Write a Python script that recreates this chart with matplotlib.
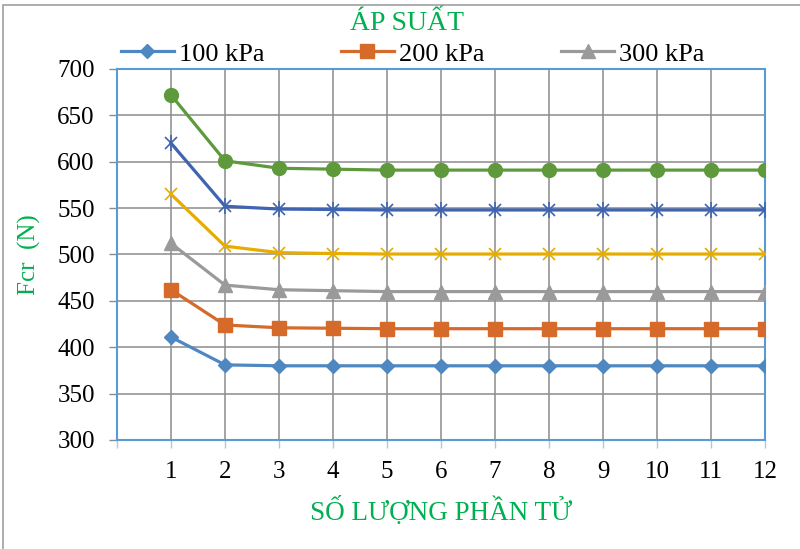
import matplotlib
matplotlib.use('Agg')
import matplotlib.pyplot as plt
from matplotlib.patches import Rectangle

plt.rcParams['font.family'] = ['Liberation Serif', 'DejaVu Serif']

# number of elements
n_elem = [1, 2, 3, 4, 5, 6, 7, 8, 9, 10, 11, 12]

# Fcr (N) for each series
fcr_100 = [411, 381, 380, 380, 380, 380, 380, 380, 380, 380, 380, 380]
fcr_200 = [462, 424, 421, 420.5, 420, 420, 420, 420, 420, 420, 420, 420]
fcr_300 = [512, 467, 462, 461, 460, 460, 460, 460, 460, 460, 460, 460]
fcr_s4 = [565, 509, 502, 501, 500.5, 500.5, 500.5, 500.5, 500.5, 500.5, 500.5, 500.5]
fcr_s5 = [620, 552, 549, 548.5, 548, 548, 548, 548, 548, 548, 548, 548]
fcr_s6 = [672, 601, 593, 592, 591, 591, 591, 591, 591, 591, 591, 591]

legend_labels = ['100 kPa', '200 kPa', '300 kPa']
y_ticks = [300, 350, 400, 450, 500, 550, 600, 650, 700]

green_txt = '#00B050'
frame_blue = '#5B9BD5'
grid_gray = '#8C8C8C'

fig = plt.figure(figsize=(8, 5.49), dpi=100)
ax = fig.add_axes([117/800, 1-440/549, (765-117)/800, (440-69)/549])

lw = 2.3
l1, = ax.plot(n_elem, fcr_100, color='#4F88C0', lw=lw, marker='D', ms=7.5, zorder=5)
l2, = ax.plot(n_elem, fcr_200, color='#D56A2A', lw=lw, marker='s', ms=10, zorder=5)
l3, = ax.plot(n_elem, fcr_300, color='#9A9A9A', lw=lw, marker='^', ms=10, zorder=5)
ax.plot(n_elem, fcr_s4, color='#E6AC00', lw=lw, marker='x', ms=9, mew=1.2, zorder=5)
# asterisk = x with a vertical stroke
ax.plot(n_elem, fcr_s5, color='#3F64B0', lw=lw, marker='x', ms=9, mew=1.2, zorder=5)
ax.plot(n_elem, fcr_s5, color='#3F64B0', lw=0, marker='|', ms=11, mew=1.2, zorder=5)
ax.plot(n_elem, fcr_s6, color='#5E9A3B', lw=lw, marker='o', ms=10, zorder=5)

ax.set_xlim(0, 12)
ax.set_ylim(300, 700)
ax.set_yticks(y_ticks)
ax.set_xticks(range(0, 13))
ax.set_xticklabels([''] + [str(v) for v in n_elem])

ax.grid(True, color=grid_gray, lw=1.1)
ax.set_axisbelow(True)
for s in ax.spines.values():
    s.set_color(frame_blue)
    s.set_linewidth(1.5)

ax.tick_params(axis='y', direction='out', length=6, width=1, color=grid_gray,
               pad=10, labelsize=18)
ax.tick_params(axis='x', direction='out', length=6, width=1, color='#A9C9EA',
               pad=9, labelsize=18)

ax.set_xlabel('SỐ LƯỢNG PHẦN TỬ', color=green_txt, fontsize=19.5, labelpad=10)
ax.set_ylabel('Fcr  (N)', color=green_txt, fontsize=18, labelpad=12)

fig.text(0.509, 1-23/549, 'ÁP SUẤT', color=green_txt, fontsize=20,
         ha='center', va='center')

fig.legend([l1, l2, l3], legend_labels, ncol=3, frameon=False, fontsize=19,
           loc='center left', bbox_to_anchor=(121/800, 1-54/549),
           handlelength=2.0, handletextpad=0.2, columnspacing=2.9,
           borderaxespad=0, borderpad=0)

# outer chart border
fig.patches.append(Rectangle((3/800, -0.05), 1.0, 1-5/549+0.05,
                             transform=fig.transFigure, fill=False,
                             edgecolor='#A0A0A0', lw=1.2))

fig.savefig('out.png', dpi=100)
